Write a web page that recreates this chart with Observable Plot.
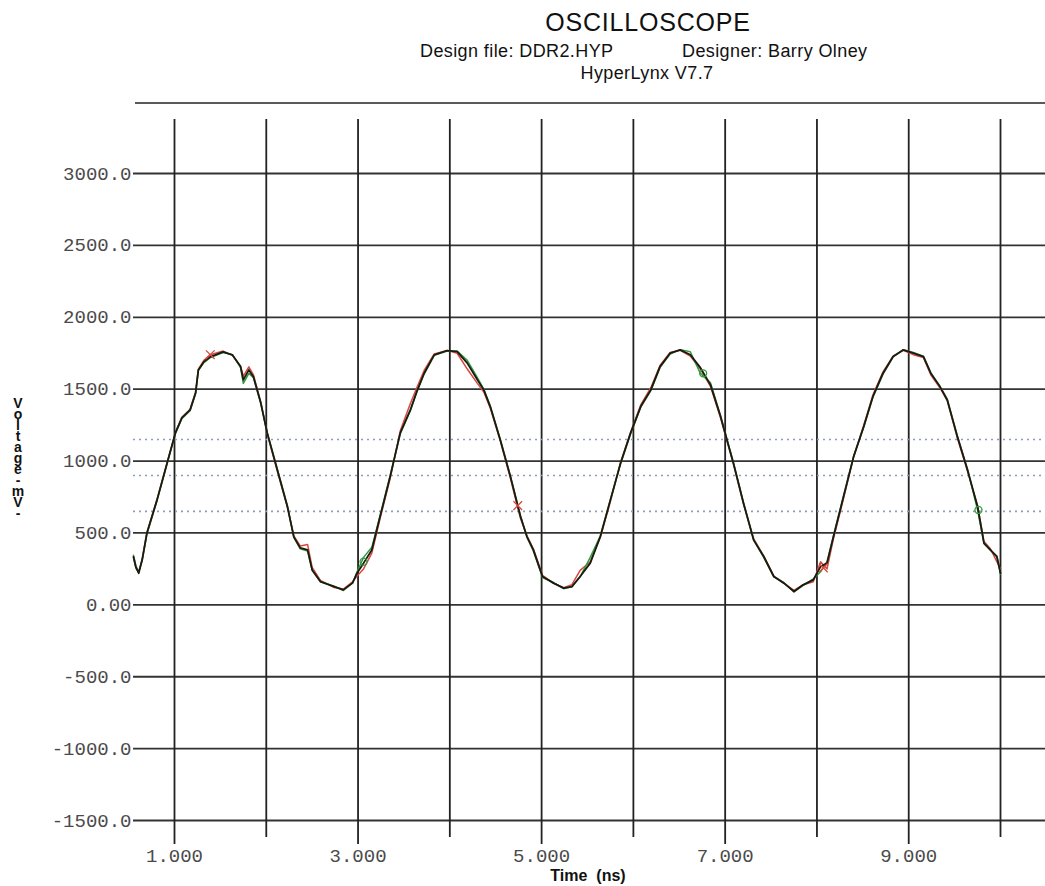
<!DOCTYPE html>
<html>
<head>
<meta charset="utf-8">
<script src="https://cdn.jsdelivr.net/npm/d3@7"></script>
<script src="https://cdn.jsdelivr.net/npm/@observablehq/plot@0.6"></script>
<style>
  html, body { margin: 0; padding: 0; background: #fff; }
  #wrap { position: relative; width: 1045px; height: 886px; overflow: hidden; }
  #chart { position: absolute; left: 0; top: 0; }
  .t { position: absolute; font-family: "Liberation Sans", Arial, sans-serif; color: #111; line-height: 1; white-space: pre; }
  #ylab { position: absolute; left: 10px; top: 395px; font-family: "Liberation Sans", Arial, sans-serif; font-weight: bold; font-size: 14px; color: #111;
          writing-mode: vertical-lr; text-orientation: upright; letter-spacing: -5px; line-height: 16px; white-space: pre; }
  #hr { position: absolute; left: 135px; top: 102px; width: 910px; height: 0; border-top: 2px solid #5a5a5a; }
</style>
</head>
<body>
<div id="wrap">
  <div id="chart"></div>
  <div class="t" style="left:0;width:1296px;top:10px;text-align:center;font-size:25px;letter-spacing:0.8px;">OSCILLOSCOPE</div>
  <div class="t" style="left:420px;top:42px;font-size:18px;letter-spacing:0.4px;">Design file: DDR2.HYP</div>
  <div class="t" style="left:682px;top:42px;font-size:18px;letter-spacing:0.4px;">Designer: Barry Olney</div>
  <div class="t" style="left:0;width:1294px;top:64px;text-align:center;font-size:18px;letter-spacing:0.4px;">HyperLynx V7.7</div>
  <div id="hr"></div>
  <div id="ylab"></div>
  <div class="t" style="left:0;width:1176px;top:868px;text-align:center;font-size:16px;font-weight:bold;">Time  (ns)</div>
</div>
<script>
// ---- data ----
const times = [0.553, 0.58, 0.61, 0.648, 0.70, 0.81, 0.92, 1.01, 1.08, 1.17, 1.23, 1.26, 1.32, 1.39, 1.53, 1.63, 1.72, 1.75, 1.81, 1.86, 1.94, 2.01, 2.12, 2.23, 2.30, 2.37, 2.45, 2.50, 2.59, 2.74, 2.84, 2.94, 2.99, 3.06, 3.15, 3.24, 3.35, 3.46, 3.57, 3.64, 3.72, 3.83, 3.97, 4.08, 4.19, 4.30, 4.37, 4.44, 4.55, 4.66, 4.77, 4.84, 4.91, 5.01, 5.13, 5.24, 5.33, 5.42, 5.53, 5.64, 5.75, 5.86, 5.97, 6.08, 6.19, 6.29, 6.40, 6.51, 6.62, 6.73, 6.84, 6.95, 7.02, 7.09, 7.20, 7.31, 7.42, 7.53, 7.64, 7.75, 7.85, 7.96, 8.04, 8.11, 8.18, 8.29, 8.40, 8.51, 8.61, 8.72, 8.83, 8.94, 9.05, 9.16, 9.24, 9.34, 9.42, 9.53, 9.64, 9.75, 9.82, 9.89, 9.96, 10.0];
const blackV = [334, 260, 220, 313, 500, 730, 987, 1196, 1300, 1356, 1474, 1634, 1690, 1725, 1760, 1739, 1657, 1565, 1634, 1587, 1405, 1196, 939, 684, 473, 396, 382, 243, 162, 127, 104, 153, 222, 290, 382, 614, 892, 1196, 1356, 1483, 1611, 1739, 1768, 1761, 1681, 1565, 1495, 1379, 1147, 892, 614, 475, 382, 197, 151, 116, 127, 197, 290, 475, 730, 985, 1196, 1379, 1495, 1657, 1750, 1773, 1739, 1650, 1530, 1310, 1147, 985, 707, 452, 336, 197, 151, 93, 139, 174, 266, 290, 475, 753, 1031, 1240, 1449, 1611, 1727, 1773, 1750, 1727, 1611, 1518, 1425, 1170, 939, 684, 429, 382, 336, 220];
const redV   = [330, 255, 225, 320, 505, 735, 990, 1200, 1305, 1360, 1480, 1640, 1700, 1740, 1765, 1735, 1660, 1590, 1655, 1600, 1410, 1190, 930, 680, 480, 410, 420, 260, 170, 120, 110, 160, 200, 250, 360, 600, 880, 1210, 1400, 1510, 1630, 1745, 1770, 1750, 1640, 1540, 1480, 1370, 1140, 880, 600, 480, 390, 205, 150, 120, 140, 240, 300, 470, 720, 990, 1200, 1390, 1510, 1665, 1755, 1770, 1730, 1640, 1520, 1300, 1140, 980, 700, 460, 340, 200, 150, 100, 140, 160, 300, 250, 460, 740, 1030, 1250, 1460, 1620, 1730, 1770, 1740, 1720, 1600, 1510, 1420, 1160, 930, 690, 440, 390, 300, 250];
const greenV = [345, 270, 230, 310, 495, 725, 985, 1190, 1295, 1350, 1470, 1630, 1685, 1720, 1755, 1740, 1650, 1540, 1610, 1580, 1400, 1200, 945, 690, 470, 390, 375, 240, 160, 130, 100, 150, 230, 330, 400, 620, 900, 1190, 1350, 1480, 1605, 1735, 1765, 1765, 1700, 1580, 1500, 1385, 1150, 895, 620, 470, 375, 190, 155, 112, 125, 195, 330, 480, 735, 980, 1190, 1375, 1490, 1650, 1745, 1775, 1760, 1610, 1545, 1315, 1150, 990, 710, 450, 330, 195, 155, 90, 135, 180, 230, 300, 480, 760, 1035, 1235, 1445, 1605, 1725, 1775, 1755, 1730, 1615, 1520, 1430, 1175, 945, 660, 425, 380, 340, 215];
const redMarks = [{t: 1.39, v: 1740}, {t: 4.74, v: 690}, {t: 8.07, v: 257}];
const greenMarks = [{t: 3.06, v: 300}, {t: 6.76, v: 1610}, {t: 9.76, v: 660}];
const yTicks = [-1500, -1000, -500, 0, 500, 1000, 1500, 2000, 2500, 3000];
const xGrid = [1, 2, 3, 4, 5, 6, 7, 8, 9, 10];
const xLabelTicks = [1, 3, 5, 7, 9];
const thresholds = [1150, 900, 650];
const yAxisTitle = "Voltage-mV-";

// ---- build ----
const rows = (vals) => times.map((t, i) => ({t, v: vals[i]}));

const chart = Plot.plot({
  width: 1045,
  height: 886,
  marginTop: 119,
  marginBottom: 49,
  marginLeft: 133,
  marginRight: 0,
  x: {domain: [0.5533, 10.4903]},
  y: {domain: [-1618.2, 3375.6]},
  style: {background: "transparent", fontFamily: "'Liberation Mono', monospace", fontSize: "19px", color: "#4a4a4a"},
  marks: [
    Plot.ruleY(yTicks, {stroke: "#333", strokeWidth: 1.8}),
    Plot.ruleX(xGrid, {stroke: "#222", strokeWidth: 1.8}),
    Plot.ruleY(thresholds, {stroke: "#8e9cb4", strokeWidth: 1.6, strokeDasharray: "2,4"}),
    Plot.line(rows(redV), {x: "t", y: "v", stroke: "#d9483f", strokeWidth: 1.5}),
    Plot.line(rows(greenV), {x: "t", y: "v", stroke: "#2f9a3e", strokeWidth: 1.5}),
    Plot.line(rows(blackV), {x: "t", y: "v", stroke: "#1a1a12", strokeWidth: 1.8}),
    Plot.dot(redMarks, {x: "t", y: "v", symbol: "times", r: 4, stroke: "#d9483f", strokeWidth: 1.3}),
    Plot.dot(greenMarks, {x: "t", y: "v", symbol: "circle", r: 3.5, stroke: "#2f9a3e", strokeWidth: 1.3}),
    Plot.axisY(yTicks, {tickSize: 0, tickPadding: 2, label: null, tickFormat: d => d === 0 ? "0.00" : d.toFixed(1)}),
    Plot.axisX(xLabelTicks, {tickSize: 7, tickPadding: 4, label: null, stroke: "#222", strokeWidth: 1.8, tickFormat: d => d.toFixed(3)})
  ]
});
document.getElementById("chart").appendChild(chart);

document.getElementById("ylab").textContent = yAxisTitle;
</script>
</body>
</html>
